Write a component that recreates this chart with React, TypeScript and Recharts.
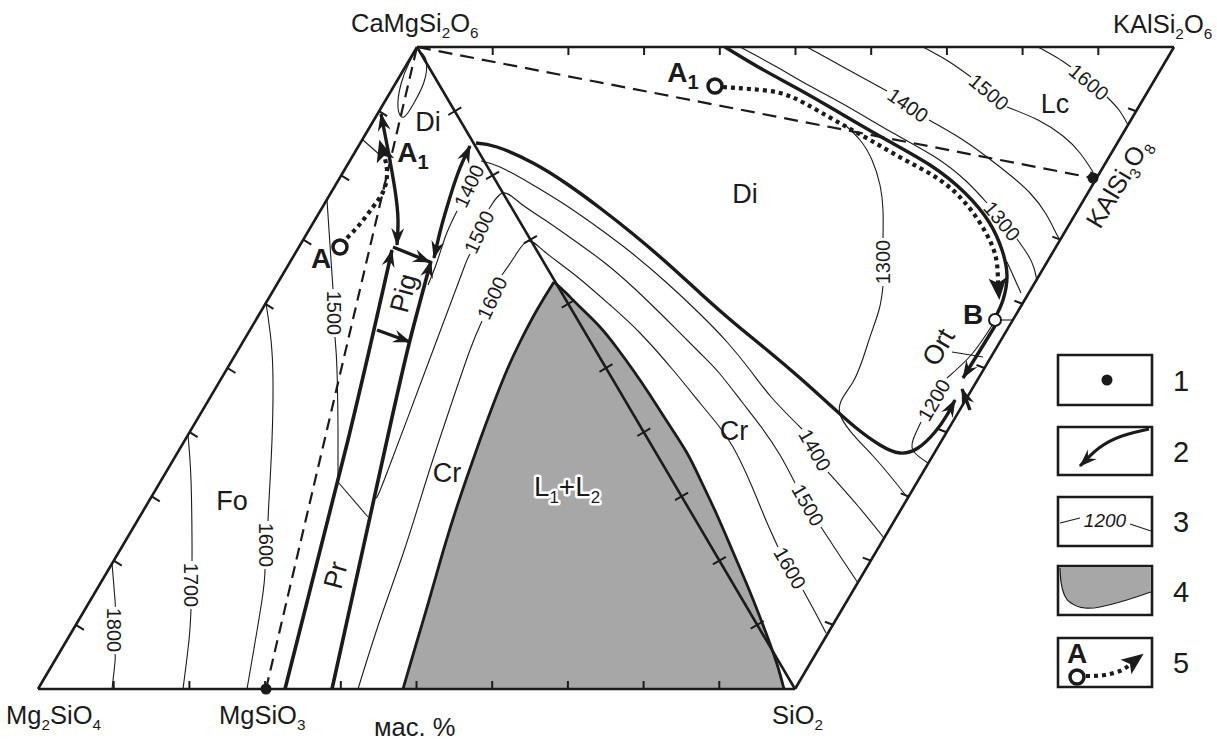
import React from 'react';
import { ComposedChart, XAxis, YAxis, Line, Area, Scatter, ReferenceArea } from 'recharts';

const W = 1217;
const H = 740;
const INK = '#1b1b1b';
const GREY = '#a7a7a7';
const FONT = "'Liberation Sans', Arial, Helvetica, sans-serif";

// ---- composition vertices (diagram units) ----
const FO = [38, 689];
const SI = [795, 689];
const DI = [417, 47];
const LC = [1174, 47];
const filledPoints = [[266, 689], [1093, 178]]; // MgSiO3, KAlSi3O8
const tickFractions = [0.1, 0.2, 0.3, 0.4, 0.5, 0.6, 0.7, 0.8, 0.9];

// ---- joins ----
const enstatiteJoin = [[266, 689], [417, 47]];
const diSanidineJoin = [[417, 47], [1093, 178]];

// ---- field boundaries (thick) ----
const prBoundary1 = [[285, 689], [348, 440], [392, 250]];
const prBoundary2 = [[332, 689], [387, 440], [410, 340], [431, 261]];
const pigCotectic = [[434, 258], [440, 232], [447, 207], [458, 173], [470, 146]];
const foDiCotectic = [[381, 114], [388, 150], [395, 190], [398, 220], [397, 245]];
const pigTie1 = [[393, 247], [430, 262]];
const pigTie2 = [[377, 330], [410, 342]];
const diCrBoundary = [[476, 143], [497, 147], [533, 163], [567, 184], [600, 208], [633, 234], [667, 263], [700, 293], [733, 322], [767, 350], [800, 378], [830, 405], [855, 427], [880, 445], [900, 453], [918, 448], [935, 432], [947, 415], [955, 400]];
const diLcBoundary = [[725, 47], [760, 68], [800, 90], [840, 113], [885, 139], [930, 165], [965, 193], [989, 222], [1002, 250], [1007, 276], [1003, 300], [996, 316]];
const ortBoundary = [[995, 326], [963, 378]];
const ortLower = [[970, 410], [962, 389]];

// ---- thin lines ----
const foDiStub = [[363, 140], [380, 155]];
const prTie = [[338, 482], [368, 517]];
const bTie = [[1000, 320], [1013, 320]];
const ortTick = [[952, 352], [983, 357]];
const ortThin = [[1007, 262], [1021, 293]];
const diLoop = [[417, 49], [426, 60], [424, 82], [414, 103], [404, 117], [398, 108], [401, 84], [409, 63], [417, 49]];

// ---- isotherms (pieces between labels) ----
const iso1800 = [[[112, 563], [115, 600], [115, 606]], [[115, 654], [115, 662], [112, 689]]];
const iso1700 = [[[188, 435], [191, 480], [192, 540], [192, 561]], [[191, 609], [189, 640], [183, 689]]];
const iso1600Fo = [[[266, 303], [271, 340], [273, 380], [272, 440], [269, 500], [268, 521]], [[265, 569], [262, 600], [247, 689]]];
const iso1500Fo = [[[327, 200], [330, 245], [333, 289]], [[335, 337], [337, 370], [338, 430], [338, 482]]];
const iso1400Cr = [[[428, 285], [437, 262], [446, 235], [457, 211]], [[481, 161], [500, 167], [533, 185], [567, 206], [600, 229], [633, 254], [667, 283], [700, 314], [727, 342], [750, 370], [772, 398], [802, 429]], [[828, 472], [858, 506], [884, 538]]];
const iso1500Cr = [[[376, 498], [385, 478], [420, 385], [450, 305], [465, 265], [470, 254]], [[489, 209], [503, 193], [520, 203], [545, 220], [575, 241], [605, 263], [635, 289], [667, 320], [700, 353], [720, 374], [742, 402], [762, 428], [780, 455], [795, 483]], [[821, 527], [840, 556], [858, 583]]];
const iso1600Cr = [[[358, 689], [380, 620], [405, 548], [427, 478], [450, 408], [470, 350], [482, 321]], [[502, 275], [515, 256], [528, 241], [545, 252], [575, 275], [610, 305], [640, 333], [673, 370], [700, 403], [718, 425], [733, 447], [750, 482], [765, 518], [778, 547]], [[803, 590], [815, 612], [826, 633]]];
const iso1300Di = [[[845, 125], [860, 140], [872, 160], [880, 185], [883, 210], [883, 238]], [[883, 286], [879, 310], [868, 343], [853, 382], [840, 414], [873, 456], [907, 497]]];
const iso1200 = [[[993, 324], [972, 354], [947, 378]], [[921, 422], [913, 440], [914, 452], [928, 463]]];
const iso1400Lc = [[[807, 47], [845, 68], [887, 91]], [[929, 120], [960, 138], [987, 157], [1010, 175], [1030, 193], [1046, 214], [1056, 233], [1060, 240]]];
const iso1500Lc = [[[923, 47], [948, 61], [971, 77]], [[1007, 107], [1038, 120], [1063, 136], [1080, 153], [1093, 172]]];
const iso1600Lc = [[[1038, 47], [1056, 57], [1071, 67]], [[1107, 97], [1119, 110], [1128, 125]]];
const iso1300Lc = [[[740, 47], [775, 66], [810, 86], [850, 108], [893, 133], [935, 157], [966, 181], [987, 203]], [[1017, 239], [1028, 255], [1034, 268], [1037, 281]]];

// ---- crystallization paths (dotted) ----
const pathA = [[347, 238], [360, 224], [373, 207], [383, 192], [387, 176], [386, 163], [384, 156]];
const pathA1 = [[723, 87], [750, 89], [780, 93], [806, 104], [836, 121], [870, 140], [905, 160], [940, 180], [967, 205], [986, 233], [996, 258], [998, 283]];
const openPoints = [[340, 247], [715, 86]]; // A, A1
const pointB = [[995, 320]];

// ---- two-liquid field L1 + L2 ----
const l1l2Left = [[403, 689], [415, 648], [428, 604], [440, 562], [453, 519], [467, 477], [480, 440], [493, 405], [507, 370], [520, 342], [533, 317], [544, 298], [554, 282]];
const l1l2Right = [[554, 282], [565, 292], [580, 307], [600, 327], [617, 348], [633, 370], [650, 395], [668, 423], [687, 453], [702, 483], [717, 515], [733, 552], [750, 592], [766, 633], [777, 664], [784, 689]];

// ---- text ----
const vertexLabels = [
  { x: 6, y: 724, t: 'Mg_2SiO_4' },
  { x: 219, y: 724, t: 'MgSiO_3' },
  { x: 772, y: 724, t: 'SiO_2' },
  { x: 351, y: 32, t: 'CaMgSi_2O_6' },
  { x: 1113, y: 33, t: 'KAlSi_2O_6' },
  { x: 374, y: 736, t: 'мас. %' },
  { x: 1100, y: 230, t: 'KAlSi_3O_8', r: -59 },
];
const fieldLabels = [
  { x: 232, y: 500, t: 'Fo' }, { x: 428, y: 121, t: 'Di' }, { x: 745, y: 193, t: 'Di' },
  { x: 447, y: 472, t: 'Cr' }, { x: 734, y: 430, t: 'Cr' }, { x: 1055, y: 103, t: 'Lc' },
  { x: 403, y: 293, t: 'Pig', r: -75 }, { x: 335, y: 575, t: 'Pr', r: -75 }, { x: 938, y: 347, t: 'Ort', r: -60 },
];
const isoLabels = [
  { x: 114, y: 630, t: '1800', r: 90 }, { x: 191, y: 585, t: '1700', r: 90 },
  { x: 266, y: 545, t: '1600', r: 90 }, { x: 334, y: 313, t: '1500', r: 90 },
  { x: 469, y: 186, t: '1400', r: -65 }, { x: 479, y: 232, t: '1500', r: -65 }, { x: 492, y: 298, t: '1600', r: -65 },
  { x: 815, y: 450, t: '1400', r: 60 }, { x: 808, y: 505, t: '1500', r: 60 }, { x: 790, y: 568, t: '1600', r: 60 },
  { x: 883, y: 262, t: '1300', r: -90 }, { x: 934, y: 400, t: '1200', r: -60 },
  { x: 908, y: 105, t: '1400', r: 35 }, { x: 989, y: 92, t: '1500', r: 40 }, { x: 1089, y: 82, t: '1600', r: 40 },
  { x: 1002, y: 221, t: '1300', r: 50 },
];
const pointLabels = [
  { x: 321, y: 258, t: 'A' }, { x: 413, y: 152, t: 'A_1' }, { x: 683, y: 72, t: 'A_1' }, { x: 973, y: 314, t: 'B' },
];
const l1l2Label = [{ x: 567, y: 486, t: 'L_1+L_2' }];

// ---- legend ----
const legendBoxes = [[1058, 355, 1152, 405], [1058, 427, 1152, 475], [1058, 497, 1152, 546], [1058, 566, 1152, 615], [1058, 638, 1152, 687]];
const legendNumbers = [{ x: 1173, y: 391, t: '1' }, { x: 1173, y: 462, t: '2' }, { x: 1173, y: 532, t: '3' }, { x: 1173, y: 602, t: '4' }, { x: 1173, y: 673, t: '5' }];
const legendDot = [[1107, 380]];
const legendCurve = [[1149, 429], [1122, 436], [1099, 448], [1080, 466]];
const legendIsoLeft = [[1060, 523], [1080, 518]];
const legendIsoRight = [[1130, 524], [1151, 531]];
const legendIsoLabel = [{ x: 1105, y: 520, t: '1200' }];
const legendBlob = [[1060, 568], [1061, 582], [1064, 594], [1071, 603], [1085, 608], [1100, 607], [1120, 602], [1151, 592]];
const legendPath = [[1086, 676], [1105, 675], [1122, 670], [1130, 664]];
const legendOpen = [[1077, 677]];
const legendA = [{ x: 1077, y: 653, t: 'A' }];

// ---------------------------------------------------------------
type XY = { x: number; y: number };
const pts = (a: number[][]): XY[] => a.map(([x, y]) => ({ x, y }));

const TEXT_STYLES: Record<string, any> = {
  vertex: { fs: 25.5, anchor: 'start', center: false, sub: 0.6 },
  field: { fs: 27, anchor: 'middle', center: true, sub: 0.6 },
  iso: { fs: 20, anchor: 'middle', center: true, sub: 0.6 },
  bold: { fs: 28, anchor: 'middle', center: true, weight: 'bold', sub: 0.72 },
  num: { fs: 29, anchor: 'start', center: false, sub: 0.6 },
  l12: { fs: 28, anchor: 'middle', center: true, sub: 0.6, halo: true },
  legIso: { fs: 19, anchor: 'middle', center: true, sub: 0.6, italic: true },
};

function Formula({ x, y, t, kind, r }: any) {
  const st = TEXT_STYLES[kind];
  const fs = st.fs;
  const segs: { s: string; sub: boolean }[] = [];
  for (let i = 0; i < t.length; i++) {
    const c = t[i];
    if (c === '_' && i + 1 < t.length) {
      segs.push({ s: t[i + 1], sub: true });
      i++;
    } else {
      const last = segs[segs.length - 1];
      if (last && !last.sub) last.s += c;
      else segs.push({ s: c, sub: false });
    }
  }
  let cur = 0;
  const kids = segs.map((g, i) => {
    const target = g.sub ? fs * 0.25 : 0;
    const dy = target - cur;
    cur = target;
    return (
      <tspan key={i} dy={dy} fontSize={g.sub ? fs * st.sub : fs}>
        {g.s}
      </tspan>
    );
  });
  const ty = st.center ? y + fs * 0.36 : y;
  return (
    <text
      x={x}
      y={ty}
      fontFamily={FONT}
      fontSize={fs}
      fontWeight={st.weight || 'normal'}
      fontStyle={st.italic ? 'italic' : 'normal'}
      textAnchor={st.anchor}
      fill={INK}
      stroke={st.halo ? '#ffffff' : 'none'}
      strokeWidth={st.halo ? 5 : 0}
      strokeLinejoin="round"
      paintOrder="stroke"
      transform={r ? `rotate(${r} ${x} ${y})` : undefined}
    >
      {kids}
    </text>
  );
}

const makeLabelShape = (kind: string) => (p: any) => {
  const { cx, cy, payload } = p;
  return <Formula x={cx} y={cy} t={payload.t} kind={kind} r={payload.r} />;
};

const arrowFrom = (line: number[][], atEnd: boolean, k: string) => {
  const n = line.length;
  const [x1, y1] = atEnd ? line[n - 1] : line[0];
  const [x0, y0] = atEnd ? line[n - 2] : line[1];
  return { x: x1, y: y1, ang: (Math.atan2(y1 - y0, x1 - x0) * 180) / Math.PI, k };
};

const ArrowShape = (p: any) => {
  const { cx, cy, payload } = p;
  const d = payload.k === 'big' ? 'M17,0 L-5,-9 L0,0 L-5,9 Z' : 'M1,0 L-17,-6.5 L-11,0 L-17,6.5 Z';
  return <path d={d} fill={INK} transform={`translate(${cx},${cy}) rotate(${payload.ang})`} />;
};

const makeTickShape = (dx: number, dy: number, cross: boolean) => (p: any) => {
  const { cx, cy } = p;
  return (
    <line
      x1={cross ? cx - dx : cx}
      y1={cross ? cy - dy : cy}
      x2={cx + dx}
      y2={cy + dy}
      stroke={INK}
      strokeWidth={2}
    />
  );
};

const tickEdges = [
  { a: FO, b: SI, dx: 0, dy: -8, cross: false },
  { a: FO, b: DI, dx: 8, dy: 5, cross: false },
  { a: DI, b: LC, dx: 0, dy: 8, cross: false },
  { a: LC, b: SI, dx: -8, dy: -3, cross: false },
  { a: DI, b: SI, dx: 6.5, dy: -3.8, cross: true },
];

const DotShape = (p: any) => <circle cx={p.cx} cy={p.cy} r={5.5} fill={INK} />;
const OpenShape = (p: any) => <circle cx={p.cx} cy={p.cy} r={7} fill="#fff" stroke={INK} strokeWidth={3.5} />;
const OpenSmallShape = (p: any) => <circle cx={p.cx} cy={p.cy} r={6} fill="#fff" stroke={INK} strokeWidth={2} />;

export default function App() {
  const lines: any[] = [];
  let key = 0;
  const L = (d: number[][], w: number, extra: any = {}) =>
    lines.push(
      <Line
        key={`l${key++}`}
        data={pts(d)}
        dataKey="y"
        type="natural"
        stroke={INK}
        strokeWidth={w}
        dot={false}
        activeDot={false}
        isAnimationActive={false}
        legendType="none"
        {...extra}
      />
    );

  [iso1800, iso1700, iso1600Fo, iso1500Fo, iso1400Cr, iso1500Cr, iso1600Cr, iso1300Di, iso1200, iso1400Lc, iso1500Lc, iso1600Lc, iso1300Lc].forEach((set) =>
    set.forEach((piece) => L(piece, 1.1))
  );
  [foDiStub, prTie, bTie, ortTick, ortThin, diLoop, legendIsoLeft, legendIsoRight].forEach((d) => L(d, 1.1));
  L(enstatiteJoin, 2.2, { strokeDasharray: '12 7', type: 'linear' });
  L(diSanidineJoin, 2.2, { strokeDasharray: '14 8', type: 'linear' });
  [[FO, SI], [FO, DI], [DI, LC], [LC, SI], [DI, SI]].forEach((e) => L(e, 2.6, { type: 'linear' }));
  [prBoundary1, prBoundary2].forEach((d) => L(d, 3.6));
  [pigCotectic, foDiCotectic, pigTie1, pigTie2, diCrBoundary, diLcBoundary, ortBoundary, ortLower].forEach((d) => L(d, 3.4));
  L(l1l2Left, 2.8);
  L(l1l2Right, 2.8);
  L(legendCurve, 3);
  L(legendBlob, 1.2);
  [pathA, pathA1, legendPath].forEach((d) => L(d, 4.2, { strokeDasharray: '4 4' }));

  const arrows = [
    arrowFrom(foDiCotectic, false, 's'), arrowFrom(foDiCotectic, true, 's'),
    arrowFrom(prBoundary1, true, 's'), arrowFrom(prBoundary2, true, 's'),
    arrowFrom(pigCotectic, false, 's'), arrowFrom(pigCotectic, true, 's'),
    arrowFrom(pigTie1, true, 's'), arrowFrom(pigTie2, true, 's'),
    arrowFrom(diCrBoundary, true, 's'), arrowFrom(ortBoundary, true, 's'), arrowFrom(ortLower, true, 's'),
    arrowFrom(legendCurve, true, 's'),
    arrowFrom(pathA, true, 'big'), arrowFrom(pathA1, true, 'big'), arrowFrom(legendPath, true, 'big'),
  ];

  const lerp = (a: number[], b: number[], t: number) => ({ x: a[0] + (b[0] - a[0]) * t, y: a[1] + (b[1] - a[1]) * t });

  return (
    <div style={{ position: 'absolute', left: 0, top: 0, width: W, height: H, background: '#fff' }}>
      <ComposedChart width={W} height={H} margin={{ top: 0, right: 0, bottom: 0, left: 0 }}>
        <XAxis type="number" dataKey="x" domain={[0, W]} hide allowDataOverflow />
        <YAxis type="number" dataKey="y" domain={[0, H]} reversed hide allowDataOverflow />

        {legendBoxes.map((b, i) => (
          <ReferenceArea key={`b${i}`} x1={b[0]} x2={b[2]} y1={b[1]} y2={b[3]} fill="none" stroke={INK} strokeWidth={2.6} ifOverflow="visible" />
        ))}

        <Area data={pts([...l1l2Left, ...l1l2Right.slice(1)])} dataKey="y" type="linear" baseValue={689} fill={GREY} fillOpacity={1} stroke="none" isAnimationActive={false} legendType="none" />
        <Area data={pts(legendBlob)} dataKey="y" type="linear" baseValue={567} fill={GREY} fillOpacity={1} stroke="none" isAnimationActive={false} legendType="none" />

        {lines}

        {tickEdges.map((e, i) => (
          <Scatter key={`t${i}`} data={tickFractions.map((f) => lerp(e.a, e.b, f))} dataKey="y" shape={makeTickShape(e.dx, e.dy, e.cross)} isAnimationActive={false} legendType="none" />
        ))}

        <Scatter data={arrows} dataKey="y" shape={ArrowShape} isAnimationActive={false} legendType="none" />
        <Scatter data={pts([...filledPoints, ...legendDot])} dataKey="y" shape={DotShape} isAnimationActive={false} legendType="none" />
        <Scatter data={pts([...openPoints, ...legendOpen])} dataKey="y" shape={OpenShape} isAnimationActive={false} legendType="none" />
        <Scatter data={pts(pointB)} dataKey="y" shape={OpenSmallShape} isAnimationActive={false} legendType="none" />

        <Scatter data={vertexLabels} dataKey="y" shape={makeLabelShape('vertex')} isAnimationActive={false} legendType="none" />
        <Scatter data={fieldLabels} dataKey="y" shape={makeLabelShape('field')} isAnimationActive={false} legendType="none" />
        <Scatter data={isoLabels} dataKey="y" shape={makeLabelShape('iso')} isAnimationActive={false} legendType="none" />
        <Scatter data={[...pointLabels, ...legendA]} dataKey="y" shape={makeLabelShape('bold')} isAnimationActive={false} legendType="none" />
        <Scatter data={l1l2Label} dataKey="y" shape={makeLabelShape('l12')} isAnimationActive={false} legendType="none" />
        <Scatter data={legendNumbers} dataKey="y" shape={makeLabelShape('num')} isAnimationActive={false} legendType="none" />
        <Scatter data={legendIsoLabel} dataKey="y" shape={makeLabelShape('legIso')} isAnimationActive={false} legendType="none" />
      </ComposedChart>
    </div>
  );
}
